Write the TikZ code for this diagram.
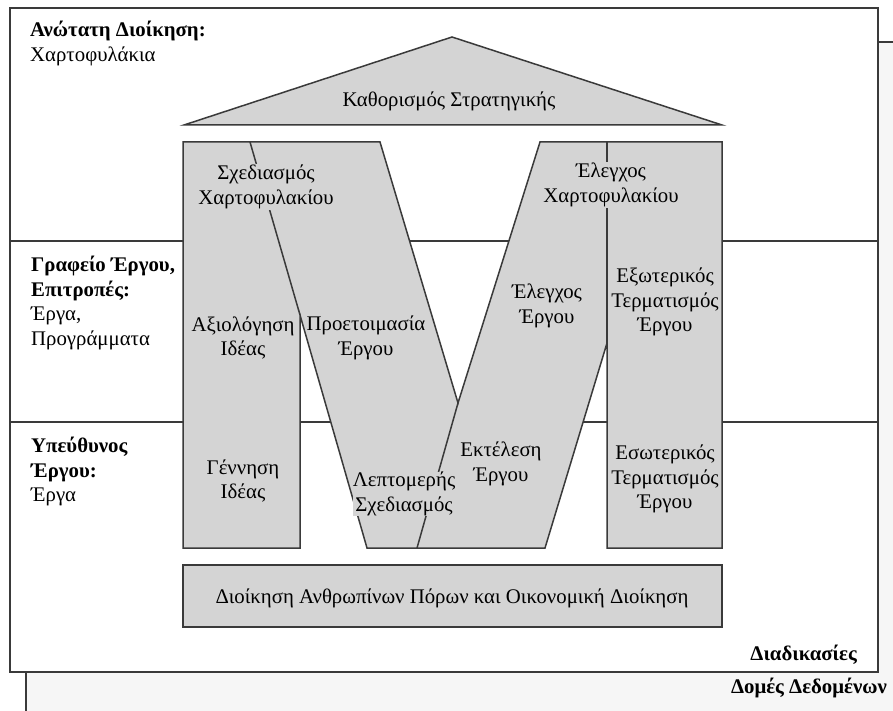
\documentclass[tikz,border=0pt]{standalone}
\usepackage{fontspec}
\setmainfont{Liberation Serif}
\definecolor{linec}{HTML}{3A3A3A}
\definecolor{mgray}{HTML}{D4D4D4}
\definecolor{backg}{HTML}{F6F6F6}
\begin{document}
\begin{tikzpicture}[x=1pt,y=-1pt,
  edge/.style={draw=linec, line width=1.5pt, line join=miter},
  lbl/.style={font=\fontsize{20.8}{24.5}\selectfont, align=center, inner sep=1pt},
  glbl/.style={lbl, fill=mgray},
  side/.style={font=\fontsize{20.8}{24.5}\selectfont, align=left, anchor=north west, inner sep=0pt},
  corner/.style={font=\fontsize{20.8}{24.5}\selectfont\bfseries, anchor=base east, inner sep=0pt}]
\useasboundingbox (0,0) rectangle (893,711);
\fill[white] (0,0) rectangle (893,711);

% data structures panel, lying behind
\draw[edge, fill=backg] (26,42) rectangle (910,730);
% processes panel
\draw[edge, fill=white] (10,8) rectangle (878,672);

% level separators
\draw[edge] (10,241) -- (878,241);
\draw[edge] (10,422) -- (878,422);

% roof: strategy
\draw[edge, fill=mgray] (184,125) -- (452,37) -- (722,125) -- cycle;
\node[lbl] (strat) at (449,101) {Καθορισμός Στρατηγικής};

% the M of project processes
\draw[edge, fill=mgray] (183,142) -- (380,142) -- (458,403) -- (540,142)
  -- (722,142) -- (722,548) -- (607,548) -- (607,343) -- (545,548)
  -- (367,548) -- (300,315) -- (300,548) -- (183,548) -- cycle;
\coordinate (lbtop) at (250,142);
\coordinate (lbmid) at (300,315);
\coordinate (vtip) at (458,403);
\coordinate (rbbot) at (417,548);
\coordinate (rctop) at (607,142);
\coordinate (rcmid) at (607,343);
\draw[edge] (lbtop) -- (lbmid);
\draw[edge] (vtip) -- (rbbot);
\draw[edge] (rctop) -- (rcmid);

% process labels
\node[glbl] (pfplan) at (266,187) {Σχεδιασμός\\Χαρτοφυλακίου};
\node[glbl] (pfctrl) at (611,185) {Έλεγχος\\Χαρτοφυλακίου};
\node[lbl] (ideaeval) at (243,338) {Αξιολόγηση\\Ιδέας};
\node[lbl] (prep) at (366,338) {Προετοιμασία\\Έργου};
\node[lbl] (prjctrl) at (547,306) {Έλεγχος\\Έργου};
\node[lbl] (extend) at (665,302) {Εξωτερικός\\Τερματισμός\\Έργου};
\node[lbl] (ideagen) at (243,481) {Γέννηση\\Ιδέας};
\node[lbl, inner sep=0pt] (exec) at (501,464) {Εκτέλεση\\Έργου};
\node[glbl, inner sep=0pt] (detail) at (404,494) {Λεπτομερής\\Σχεδιασμός};
\node[lbl] (intend) at (665,479) {Εσωτερικός\\Τερματισμός\\Έργου};

% support processes
\draw[edge, fill=mgray] (183,565) rectangle (722,627);
\node[lbl] (support) at (452,598) {Διοίκηση Ανθρωπίνων Πόρων και Οικονομική Διοίκηση};

% level names
\node[side] (top) at (30,21) {\textbf{Ανώτατη Διοίκηση:}\\Χαρτοφυλάκια};
\node[side] (office) at (31,256) {\textbf{Γραφείο Έργου,}\\\textbf{Επιτροπές:}\\Έργα,\\Προγράμματα};
\node[side] (pm) at (31,437) {\textbf{Υπεύθυνος}\\\textbf{Έργου:}\\Έργα};

% panel names
\node[corner] (procs) at (857,660) {Διαδικασίες};
\node[corner] (data) at (887,693) {Δομές Δεδομένων};
\end{tikzpicture}
\end{document}
